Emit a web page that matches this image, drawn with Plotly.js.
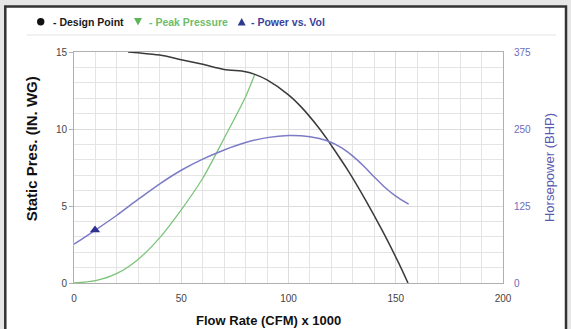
<!DOCTYPE html>
<html>
<head>
<meta charset="utf-8">
<script src="https://cdn.plot.ly/plotly-3.0.1.min.js"></script>
<style>
html,body{margin:0;padding:0;background:#e6e6e6;}
#chart{width:571px;height:329px;}
</style>
</head>
<body>
<div id="chart"></div>
<script>
// Fan curve (static pressure vs flow)
const flowFan = [25.2, 30, 40, 50, 60, 70, 80, 84.3, 90, 100, 106, 114, 118, 120, 128, 136, 144, 151, 155.7];
const pressFan = [15, 14.95, 14.8, 14.5, 14.2, 13.87, 13.72, 13.55, 13.19, 12.22, 11.42, 10.1, 9.34, 8.93, 7.25, 5.37, 3.33, 1.4, 0];
// System / peak pressure curve
const flowSys = [0, 10, 20, 30, 40, 50, 60, 70, 80, 84.3];
const pressSys = [0, 0.15, 0.62, 1.55, 2.95, 4.75, 6.8, 9.4, 12.1, 13.55];
// Power vs volume
const flowPow = [0, 10, 20, 30, 40, 50, 60, 70, 80, 90, 100, 110, 118, 125, 130, 135, 140, 145, 150, 156];
const hpPow = [63, 86, 110, 136, 161, 183, 201, 216, 228, 236, 239.5, 237.5, 231, 219, 206, 190, 172, 155, 141, 128];
// Marker on power curve
const markFlow = [9.8];
const markHp = [86];
// Axis ticks
const xTicks = [0, 50, 100, 150, 200];
const yTicks = [0, 5, 10, 15];
const y2Ticks = [0, 125, 250, 375];
// Legend labels
const legendLabels = ['- Design Point', '- Peak Pressure', '- Power vs. Vol'];

const L = 74, R = 503, T = 52, B = 283;
const PW = R - L, PH = B - T;
const px = v => (v - L) / PW;
const py = v => (B - v) / PH;

const traces = [
  {x: flowSys, y: pressSys, mode: 'lines', line: {color: '#7cc47a', width: 1.3, shape: 'spline', smoothing: 0.8}, showlegend: false, hoverinfo: 'skip'},
  {x: flowFan, y: pressFan, mode: 'lines', line: {color: '#3a3a3a', width: 1.5, shape: 'spline', smoothing: 0.8}, showlegend: false, hoverinfo: 'skip'},
  {x: flowPow, y: hpPow, yaxis: 'y2', mode: 'lines', line: {color: '#7b7bc6', width: 1.5, shape: 'spline', smoothing: 0.8}, showlegend: false, hoverinfo: 'skip'},
  {x: markFlow, y: markHp, yaxis: 'y2', mode: 'markers', marker: {symbol: 'triangle-up', size: 9, color: '#2e3190'}, showlegend: false, hoverinfo: 'skip'}
];

const nb = n => '&nbsp;'.repeat(n);

const shapes = [
  {type: 'rect', xref: 'paper', yref: 'paper', x0: px(5.3), x1: px(566), y0: py(345), y1: py(6.6),
   fillcolor: '#ffffff', line: {color: '#333333', width: 2.5}, layer: 'below'},
  {type: 'line', xref: 'paper', yref: 'paper', x0: px(27), x1: px(556), y0: py(35), y1: py(35),
   line: {color: '#e2e2e2', width: 1}, layer: 'below'},
  // legend symbols
  {type: 'circle', xref: 'paper', yref: 'paper', x0: px(37), x1: px(44.4), y0: py(25.4), y1: py(18),
   fillcolor: '#111111', line: {width: 0}},
  {type: 'path', xref: 'paper', yref: 'paper',
   path: `M ${px(134)} ${py(18)} L ${px(142)} ${py(18)} L ${px(138)} ${py(25.5)} Z`,
   fillcolor: '#5db65b', line: {width: 0}},
  {type: 'path', xref: 'paper', yref: 'paper',
   path: `M ${px(237.7)} ${py(25.5)} L ${px(245.7)} ${py(25.5)} L ${px(241.7)} ${py(18)} Z`,
   fillcolor: '#2e3a8c', line: {width: 0}}
];

const legFont = {family: 'Liberation Sans, Arial, sans-serif', size: 10.5};
const annotations = [
  {xref: 'paper', yref: 'paper', x: px(50.5), y: py(21.7), xanchor: 'left', yanchor: 'middle', showarrow: false,
   text: '<b>' + legendLabels[0] + '</b>', font: Object.assign({}, legFont, {color: '#1a1a1a'})},
  {xref: 'paper', yref: 'paper', x: px(147), y: py(21.7), xanchor: 'left', yanchor: 'middle', showarrow: false,
   text: '<b>' + legendLabels[1] + '</b>', font: Object.assign({}, legFont, {color: '#6dbd6b'})},
  {xref: 'paper', yref: 'paper', x: px(249), y: py(21.7), xanchor: 'left', yanchor: 'middle', showarrow: false,
   text: '<b>' + legendLabels[2] + '</b>', font: Object.assign({}, legFont, {color: '#3a3f9c'})}
];

const layout = {
  width: 571, height: 329,
  margin: {l: L, r: 571 - R, t: T, b: 329 - B, pad: 0},
  paper_bgcolor: '#e6e6e6',
  plot_bgcolor: '#ffffff',
  showlegend: false,
  font: {family: 'Liberation Sans, Arial, sans-serif', color: '#444'},
  xaxis: {
    range: [0, 200], tickvals: xTicks, ticktext: xTicks.map(String),
    showgrid: true, gridcolor: '#dcdcdc', gridwidth: 1,
    minor: {dtick: 10, tick0: 0, showgrid: true, gridcolor: '#e4e4e4', gridwidth: 1},
    showline: true, mirror: true, linecolor: '#b0b0b0', linewidth: 1,
    zeroline: false, ticks: '', ticklabelstandoff: 6,
    tickfont: {size: 10, color: '#444'},
    title: {text: '<b>Flow Rate (CFM) x 1000</b>' + nb(11), font: {size: 13, color: '#111'}, standoff: 12}
  },
  yaxis: {
    range: [0, 15], tickvals: yTicks, ticktext: yTicks.map(String),
    showgrid: true, gridcolor: '#dcdcdc', gridwidth: 1,
    minor: {dtick: 1, tick0: 0, showgrid: true, gridcolor: '#e4e4e4', gridwidth: 1},
    showline: true, mirror: true, linecolor: '#b0b0b0', linewidth: 1,
    zeroline: false, ticks: 'outside', ticklen: 4, tickcolor: '#b0b0b0',
    tickfont: {size: 10, color: '#444'},
    title: {text: nb(9) + '<b>Static Pres. (IN. WG)</b>', font: {size: 15, color: '#111'}, standoff: 14}
  },
  yaxis2: {
    range: [0, 375], overlaying: 'y', side: 'right', tickvals: y2Ticks, ticktext: y2Ticks.map(String),
    showgrid: false, zeroline: false, showline: false, ticks: '',
    ticklabelstandoff: 10,
    tickfont: {size: 10, color: '#6c6cb8'},
    title: {text: 'Horsepower (BHP)', font: {size: 13, color: '#5a5ab0'}, standoff: 14}
  },
  shapes: shapes,
  annotations: annotations
};

Plotly.newPlot('chart', traces, layout, {staticPlot: true, displayModeBar: false});
</script>
</body>
</html>
